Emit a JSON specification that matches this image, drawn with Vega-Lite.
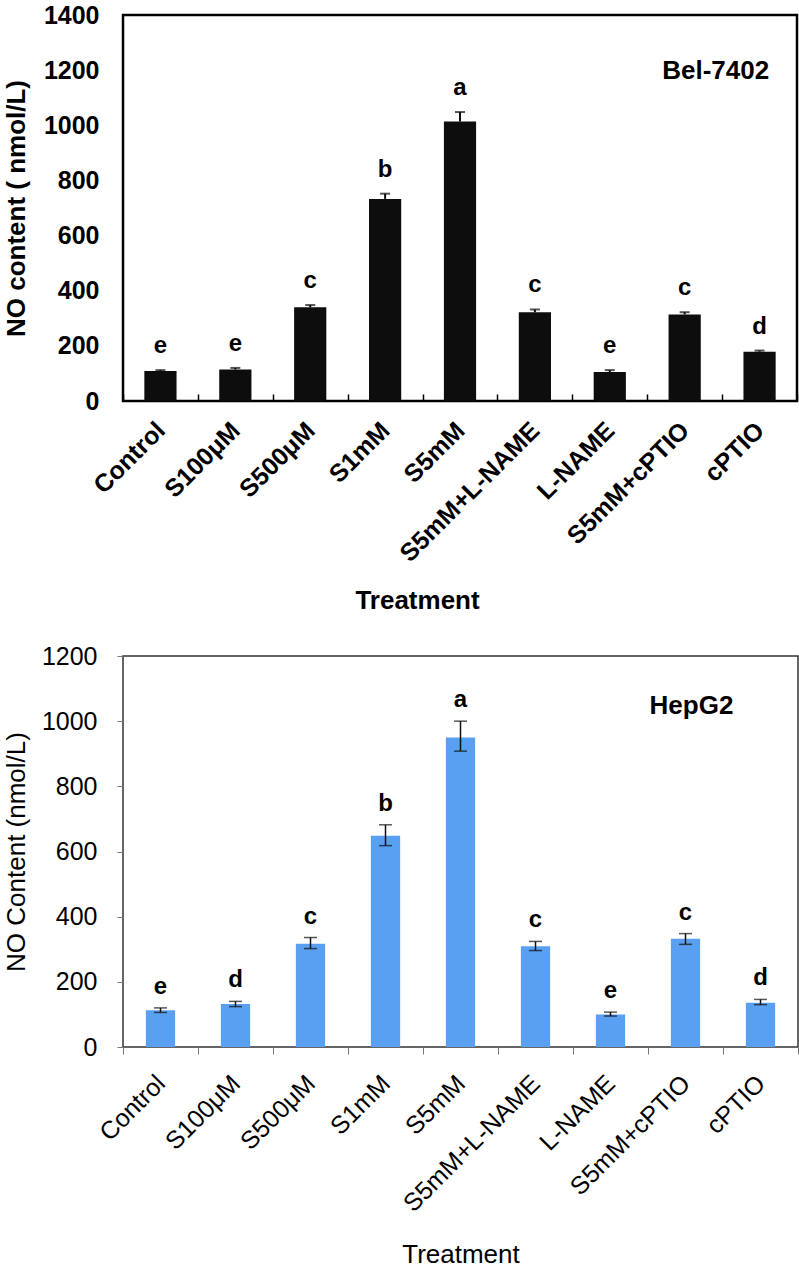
{
  "$schema": "https://vega.github.io/schema/vega-lite/v6.json",
  "background": "white",
  "padding": {"left": 2, "top": 1, "right": 3, "bottom": 0},
  "autosize": {"type": "pad"},
  "config": {"font": "Liberation Sans", "axis": {"grid": false}},
  "bounds": "flush",
  "spacing": 255,
  "datasets": {
    "bel": [
      {"treatment": "Control", "mean": 109, "lo": 109, "hi": 112, "letter": "e"},
      {"treatment": "S100μM", "mean": 114, "lo": 114, "hi": 120, "letter": "e"},
      {"treatment": "S500μM", "mean": 340, "lo": 340, "hi": 348, "letter": "c"},
      {"treatment": "S1mM", "mean": 733, "lo": 733, "hi": 752, "letter": "b"},
      {"treatment": "S5mM", "mean": 1014, "lo": 1014, "hi": 1048, "letter": "a"},
      {"treatment": "S5mM+L-NAME", "mean": 322, "lo": 322, "hi": 332, "letter": "c"},
      {"treatment": "L-NAME", "mean": 105, "lo": 105, "hi": 112, "letter": "e"},
      {"treatment": "S5mM+cPTIO", "mean": 314, "lo": 314, "hi": 322, "letter": "c"},
      {"treatment": "cPTIO", "mean": 179, "lo": 179, "hi": 183, "letter": "d"}
    ],
    "hep": [
      {"treatment": "Control", "mean": 113, "lo": 106, "hi": 120, "letter": "e"},
      {"treatment": "S100μM", "mean": 132, "lo": 124, "hi": 140, "letter": "d"},
      {"treatment": "S500μM", "mean": 317, "lo": 302, "hi": 336, "letter": "c"},
      {"treatment": "S1mM", "mean": 648, "lo": 618, "hi": 682, "letter": "b"},
      {"treatment": "S5mM", "mean": 950, "lo": 908, "hi": 1000, "letter": "a"},
      {"treatment": "S5mM+L-NAME", "mean": 309, "lo": 296, "hi": 324, "letter": "c"},
      {"treatment": "L-NAME", "mean": 100, "lo": 95, "hi": 107, "letter": "e"},
      {"treatment": "S5mM+cPTIO", "mean": 332, "lo": 315, "hi": 348, "letter": "c"},
      {"treatment": "cPTIO", "mean": 136, "lo": 130, "hi": 146, "letter": "d"}
    ]
  },
  "vconcat": [
    {
      "width": 674,
      "height": 386,
      "view": {"stroke": "black", "strokeWidth": 2.5},
      "data": {"name": "bel"},
      "encoding": {
        "x": {
          "field": "treatment", "type": "nominal", "sort": null,
          "scale": {"paddingInner": 0, "paddingOuter": 0},
          "axis": {
            "title": "Treatment", "titleFontSize": 26, "titleFontWeight": "bold", "titleColor": "black", "titlePadding": 21, "titleX": 294,
            "labelAngle": -45, "labelAlign": "right", "labelBaseline": "middle", "labelLimit": 0,
            "labelFontSize": 25, "labelFontWeight": "bold", "labelColor": "black", "labelPadding": 32,
            "domain": false, "ticks": true, "tickBand": "extent", "tickSize": -7, "tickColor": "black", "tickWidth": 1.5
          }
        }
      },
      "layer": [
        {
          "mark": {"type": "bar", "color": "#0d0d0d", "width": {"band": 0.43}},
          "encoding": {
            "y": {
              "field": "mean", "type": "quantitative", "title": "NO content ( nmol/L)",
              "scale": {"domain": [0, 1400], "nice": false},
              "axis": {
                "values": [0, 200, 400, 600, 800, 1000, 1200, 1400], "format": "d",
                "labelFontSize": 25, "labelFontWeight": "bold", "labelColor": "black", "labelPadding": 24,
                "ticks": false, "domain": false,
                "titleFontSize": 26, "titleFontWeight": "bold", "titleColor": "black", "titlePadding": 14
              }
            }
          }
        },
        {
          "mark": {"type": "rule", "color": "#0d0d0d", "strokeWidth": 2},
          "encoding": {"y": {"field": "lo", "type": "quantitative", "title": "NO content ( nmol/L)"}, "y2": {"field": "hi"}}
        },
        {
          "mark": {"type": "tick", "color": "#0d0d0d", "thickness": 2, "size": 10},
          "encoding": {"y": {"field": "hi", "type": "quantitative", "title": "NO content ( nmol/L)"}}
        },
        {
          "mark": {"type": "text", "fontSize": 24, "fontWeight": "bold", "dy": -17, "baseline": "alphabetic", "color": "black"},
          "encoding": {"y": {"field": "hi", "type": "quantitative", "title": "NO content ( nmol/L)"}, "text": {"field": "letter"}}
        },
        {
          "data": {"values": [{"label": "Bel-7402"}]},
          "mark": {"type": "text", "fontSize": 26, "fontWeight": "bold", "align": "center", "baseline": "middle", "dx": 31, "color": "black"},
          "encoding": {"x": {"datum": "S5mM+cPTIO"}, "y": {"datum": 1197}, "text": {"field": "label"}}
        }
      ]
    },
    {
      "width": 675,
      "height": 391,
      "view": {"stroke": "#333333", "strokeWidth": 1.5},
      "data": {"name": "hep"},
      "encoding": {
        "x": {
          "field": "treatment", "type": "nominal", "sort": null,
          "scale": {"paddingInner": 0, "paddingOuter": 0},
          "axis": {
            "title": "Treatment", "titleFontSize": 26, "titleFontWeight": "normal", "titleColor": "black", "titlePadding": 25,
            "labelAngle": -45, "labelAlign": "right", "labelBaseline": "middle", "labelLimit": 0,
            "labelFontSize": 25, "labelFontWeight": "normal", "labelColor": "black", "labelPadding": 25,
            "domain": false, "ticks": true, "tickBand": "extent", "tickSize": 7, "tickColor": "#777777", "tickWidth": 1
          }
        }
      },
      "layer": [
        {
          "mark": {"type": "bar", "color": "#5aa0f2", "width": {"band": 0.39}},
          "encoding": {
            "y": {
              "field": "mean", "type": "quantitative", "title": "NO Content (nmol/L)",
              "scale": {"domain": [0, 1200], "nice": false},
              "axis": {
                "values": [0, 200, 400, 600, 800, 1000, 1200], "format": "d",
                "labelFontSize": 25, "labelFontWeight": "normal", "labelColor": "black", "labelPadding": 20,
                "ticks": true, "tickSize": 6, "tickColor": "#777777", "domain": false,
                "titleFontSize": 26, "titleFontWeight": "normal", "titleColor": "black", "titlePadding": 12
              }
            }
          }
        },
        {
          "mark": {"type": "rule", "color": "#111111", "strokeWidth": 1.5},
          "encoding": {"y": {"field": "lo", "type": "quantitative", "title": "NO Content (nmol/L)"}, "y2": {"field": "hi"}}
        },
        {
          "mark": {"type": "tick", "color": "#111111", "thickness": 1.5, "size": 13},
          "encoding": {"y": {"field": "hi", "type": "quantitative", "title": "NO Content (nmol/L)"}}
        },
        {
          "mark": {"type": "tick", "color": "#111111", "thickness": 1.5, "size": 13},
          "encoding": {"y": {"field": "lo", "type": "quantitative", "title": "NO Content (nmol/L)"}}
        },
        {
          "mark": {"type": "text", "fontSize": 24, "fontWeight": "bold", "dy": -14, "baseline": "alphabetic", "color": "black"},
          "encoding": {"y": {"field": "hi", "type": "quantitative", "title": "NO Content (nmol/L)"}, "text": {"field": "letter"}}
        },
        {
          "data": {"values": [{"label": "HepG2"}]},
          "mark": {"type": "text", "fontSize": 26, "fontWeight": "bold", "align": "center", "baseline": "middle", "dx": 6, "color": "black"},
          "encoding": {"x": {"datum": "S5mM+cPTIO"}, "y": {"datum": 1047}, "text": {"field": "label"}}
        }
      ]
    }
  ]
}
